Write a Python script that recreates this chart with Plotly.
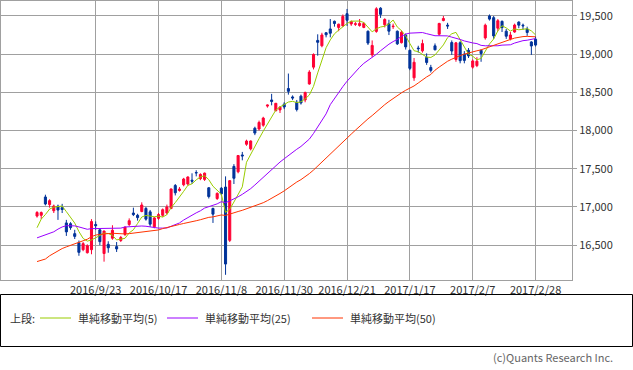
import plotly.graph_objects as go
import pandas as pd

dates = ["2016/9/1","2016/9/2","2016/9/5","2016/9/6","2016/9/7","2016/9/8","2016/9/9","2016/9/12","2016/9/13","2016/9/14",
 "2016/9/15","2016/9/16","2016/9/20","2016/9/21","2016/9/23","2016/9/26","2016/9/27","2016/9/28","2016/9/29","2016/9/30",
 "2016/10/3","2016/10/4","2016/10/5","2016/10/6","2016/10/7","2016/10/11","2016/10/12","2016/10/13","2016/10/14","2016/10/17",
 "2016/10/18","2016/10/19","2016/10/20","2016/10/21","2016/10/24","2016/10/25","2016/10/26","2016/10/27","2016/10/28","2016/10/31",
 "2016/11/1","2016/11/2","2016/11/4","2016/11/7","2016/11/8","2016/11/9","2016/11/10","2016/11/11","2016/11/14","2016/11/15",
 "2016/11/16","2016/11/17","2016/11/18","2016/11/21","2016/11/22","2016/11/24","2016/11/25","2016/11/28","2016/11/29","2016/11/30",
 "2016/12/1","2016/12/2","2016/12/5","2016/12/6","2016/12/7","2016/12/8","2016/12/9","2016/12/12","2016/12/13","2016/12/14",
 "2016/12/15","2016/12/16","2016/12/19","2016/12/20","2016/12/21","2016/12/22","2016/12/26","2016/12/27","2016/12/28","2016/12/29",
 "2016/12/30","2017/1/4","2017/1/5","2017/1/6","2017/1/10","2017/1/11","2017/1/12","2017/1/13","2017/1/16","2017/1/17",
 "2017/1/18","2017/1/19","2017/1/20","2017/1/23","2017/1/24","2017/1/25","2017/1/26","2017/1/27","2017/1/30","2017/1/31",
 "2017/2/1","2017/2/2","2017/2/3","2017/2/6","2017/2/7","2017/2/8","2017/2/9","2017/2/10","2017/2/13","2017/2/14",
 "2017/2/15","2017/2/16","2017/2/17","2017/2/20","2017/2/21","2017/2/22","2017/2/23","2017/2/24","2017/2/27","2017/2/28"]

open_ = [16880,16890,17130,17030,16950,17010,16990,16790,16780,16650,
 16530,16440,16400,16440,16770,16700,16390,16510,16590,16480,
 16560,16640,16770,16920,16890,16940,16980,16935,16740,16850,
 16890,16920,16980,17280,17215,17290,17300,17350,17450,17370,
 17360,17250,16980,17110,17245,17260,16562,17530,17460,17680,
 17820,17760,18030,18020,18070,18320,18400,18260,18270,18345,
 18550,18440,18370,18450,18400,18610,18830,19180,19110,19280,
 19330,19430,19350,19370,19530,19395,19390,19375,19350,19300,
 18990,19298,19602,19385,19400,19360,19300,19150,19250,19050,
 18690,19080,19043,18957,18826,19109,19261,19440,19380,19152,
 18930,19150,19000,19050,18830,18850,19050,19213,19500,19478,
 19340,19430,19300,19200,19290,19420,19380,19330,19160,19196]

high = [16945,16940,17160,17100,17030,17030,17040,16830,16800,16700,
 16560,16540,16510,16840,16810,16720,16690,16550,16760,16540,
 16620,16740,16850,16990,16910,17060,17000,16960,16870,16920,
 16980,17030,17240,17300,17260,17380,17400,17440,17480,17440,
 17450,17260,16990,17190,17260,17400,17350,17560,17680,17720,
 17880,17870,18050,18130,18180,18340,18480,18360,18320,18370,
 18746,18460,18400,18470,18510,18790,19010,19260,19280,19290,
 19460,19440,19400,19520,19592,19440,19420,19460,19420,19310,
 19180,19615,19615,19470,19450,19400,19310,19310,19270,19060,
 18950,19110,19190,19010,18860,19140,19410,19500,19410,19180,
 19160,19170,19040,19080,18930,18960,19060,19400,19520,19500,
 19460,19440,19330,19290,19400,19430,19400,19360,19170,19230]

low = [16860,16840,17020,16990,16920,16830,16920,16620,16700,16580,
 16360,16420,16390,16380,16700,16500,16283,16400,16570,16410,
 16540,16620,16750,16880,16820,16930,16820,16740,16720,16830,
 16870,16900,16970,17150,17200,17270,17280,17300,17400,17350,
 17340,17110,16790,17090,17150,16111,16540,17300,17440,17610,
 17800,17740,17940,18000,18050,18300,18330,18250,18230,18280,
 18470,18400,18250,18340,18370,18600,18800,18980,19090,19220,
 19220,19360,19300,19360,19370,19370,19370,19360,19340,19120,
 18960,19280,19475,19350,19250,19330,19120,19140,19060,18790,
 18650,19020,19020,18860,18760,19050,19240,19430,19330,18990,
 18900,18880,18880,18950,18810,18830,18900,19190,19440,19200,
 19300,19290,19200,19180,19280,19340,19320,19240,18990,19100]

close = [16927,16926,17038,17082,17012,16959,16966,16673,16729,16614,
 16405,16519,16492,16808,16754,16545,16684,16465,16694,16450,
 16599,16736,16819,16899,16860,17025,16840,16774,16856,16900,
 16964,16999,17235,17185,17234,17365,17392,17336,17446,17425,
 17442,17135,16905,17177,17171,16252,17344,17375,17673,17668,
 17862,17863,17967,18106,18163,18333,18381,18357,18307,18308,
 18513,18426,18275,18361,18497,18765,18996,19155,19251,19254,
 19274,19401,19392,19495,19444,19428,19397,19403,19402,19145,
 19114,19594,19521,19454,19301,19365,19135,19287,19095,18814,
 18894,19072,19138,18891,18788,19057,19402,19467,19369,19041,
 19148,18915,18918,18977,18911,18908,19008,19379,19459,19239,
 19438,19348,19235,19251,19381,19380,19371,19284,19107,19119]

# closes of the 49 sessions before 2016/9/1 (needed for the moving averages)
prior_close = [16066,16238,14952,15309,15323,15567,15576,15682,15776,15669,
 15379,15276,15107,15709,16096,16231,16386,16498,16723,16682,
 16810,16627,16620,16383,16665,16477,16569,16636,16391,16083,
 16255,16254,16651,16765,16735,16920,16870,16597,16746,16486,
 16546,16598,16497,16597,16556,16361,16737,16725,16887]

tick_labels = ["2016/9/23","2016/10/17","2016/11/8","2016/11/30","2016/12/21","2017/1/17","2017/2/7","2017/2/28"]
y_ticks = [16500, 17000, 17500, 18000, 18500, 19000, 19500]

ma_periods = [5, 25, 50]
ma_names = ["単純移動平均(5)", "単純移動平均(25)", "単純移動平均(50)"]
ma_colors = ["#99cc00", "#9900ff", "#ff3300"]

full = pd.Series(prior_close + close, dtype=float)
n_prior = len(prior_close)

fig = go.Figure()
fig.add_trace(go.Candlestick(
    x=dates, open=open_, high=high, low=low, close=close,
    increasing=dict(line=dict(color="#ff0033", width=1), fillcolor="#ff0033"),
    decreasing=dict(line=dict(color="#003399", width=1), fillcolor="#003399"),
    showlegend=False, hoverinfo="skip"))

for p, nm, col in zip(ma_periods, ma_names, ma_colors):
    ma = full.rolling(p).mean().iloc[n_prior:].tolist()
    fig.add_trace(go.Scatter(x=dates, y=ma, mode="lines", name=nm,
                             line=dict(color=col, width=1), showlegend=False, hoverinfo="skip"))

W, H = 633, 370
L, R, T, B = 1, 61, 1, 90
pw, ph = W - L - R, H - T - B

def px_x(px):
    return (px - L) / pw

def px_y(py):
    return (H - B - py) / ph

grid = "#a0a0a0"
fig.update_layout(
    width=W, height=H, margin=dict(l=L, r=R, t=T, b=B, autoexpand=False),
    paper_bgcolor="white", plot_bgcolor="white",
    font=dict(family="Noto Sans CJK JP", size=11, color="#333333"),
    xaxis=dict(type="category", range=[-8.6, 127.7], rangeslider=dict(visible=False),
               tickvals=tick_labels, ticktext=tick_labels, showgrid=True, gridcolor=grid, gridwidth=1,
               showline=True, linecolor=grid, linewidth=1, mirror=True, ticks="",
               tickfont=dict(size=11, color="#333333"), zeroline=False),
    yaxis=dict(side="right", range=[16043, 19696], tickvals=y_ticks, tickformat=",d",
               showgrid=True, gridcolor=grid, gridwidth=1, showline=True, linecolor=grid,
               linewidth=1, mirror=True, ticks="outside", ticklen=4, tickcolor=grid,
               tickfont=dict(size=11, color="#333333"), zeroline=False),
)

shapes = [dict(type="rect", xref="paper", yref="paper",
               x0=px_x(0.5), x1=px_x(632.5), y0=px_y(346.5), y1=px_y(294.5),
               line=dict(color="black", width=1), fillcolor="rgba(0,0,0,0)")]
annotations = [dict(text="上段:", xref="paper", yref="paper", x=px_x(8), y=px_y(318),
                    xanchor="left", yanchor="middle", showarrow=False,
                    font=dict(size=11, color="#333333"))]
line_x = [(40, 71), (167, 198), (312, 343)]
text_x = [76, 203, 348]
for (a, b), tx, nm, col in zip(line_x, text_x, ma_names, ma_colors):
    shapes.append(dict(type="line", xref="paper", yref="paper", x0=px_x(a), x1=px_x(b),
                       y0=px_y(318), y1=px_y(318), line=dict(color=col, width=1)))
    annotations.append(dict(text=nm, xref="paper", yref="paper", x=px_x(tx), y=px_y(318),
                            xanchor="left", yanchor="middle", showarrow=False,
                            font=dict(size=11, color="#333333")))
annotations.append(dict(text="(c)Quants Research Inc.", xref="paper", yref="paper",
                        x=px_x(615), y=px_y(357), xanchor="right", yanchor="middle",
                        showarrow=False, font=dict(size=11, color="#666666")))
fig.update_layout(shapes=shapes, annotations=annotations)

fig.write_html("out.html", config={"displayModeBar": False},
               post_script="document.body.style.margin='0';document.body.style.overflow='hidden';")
